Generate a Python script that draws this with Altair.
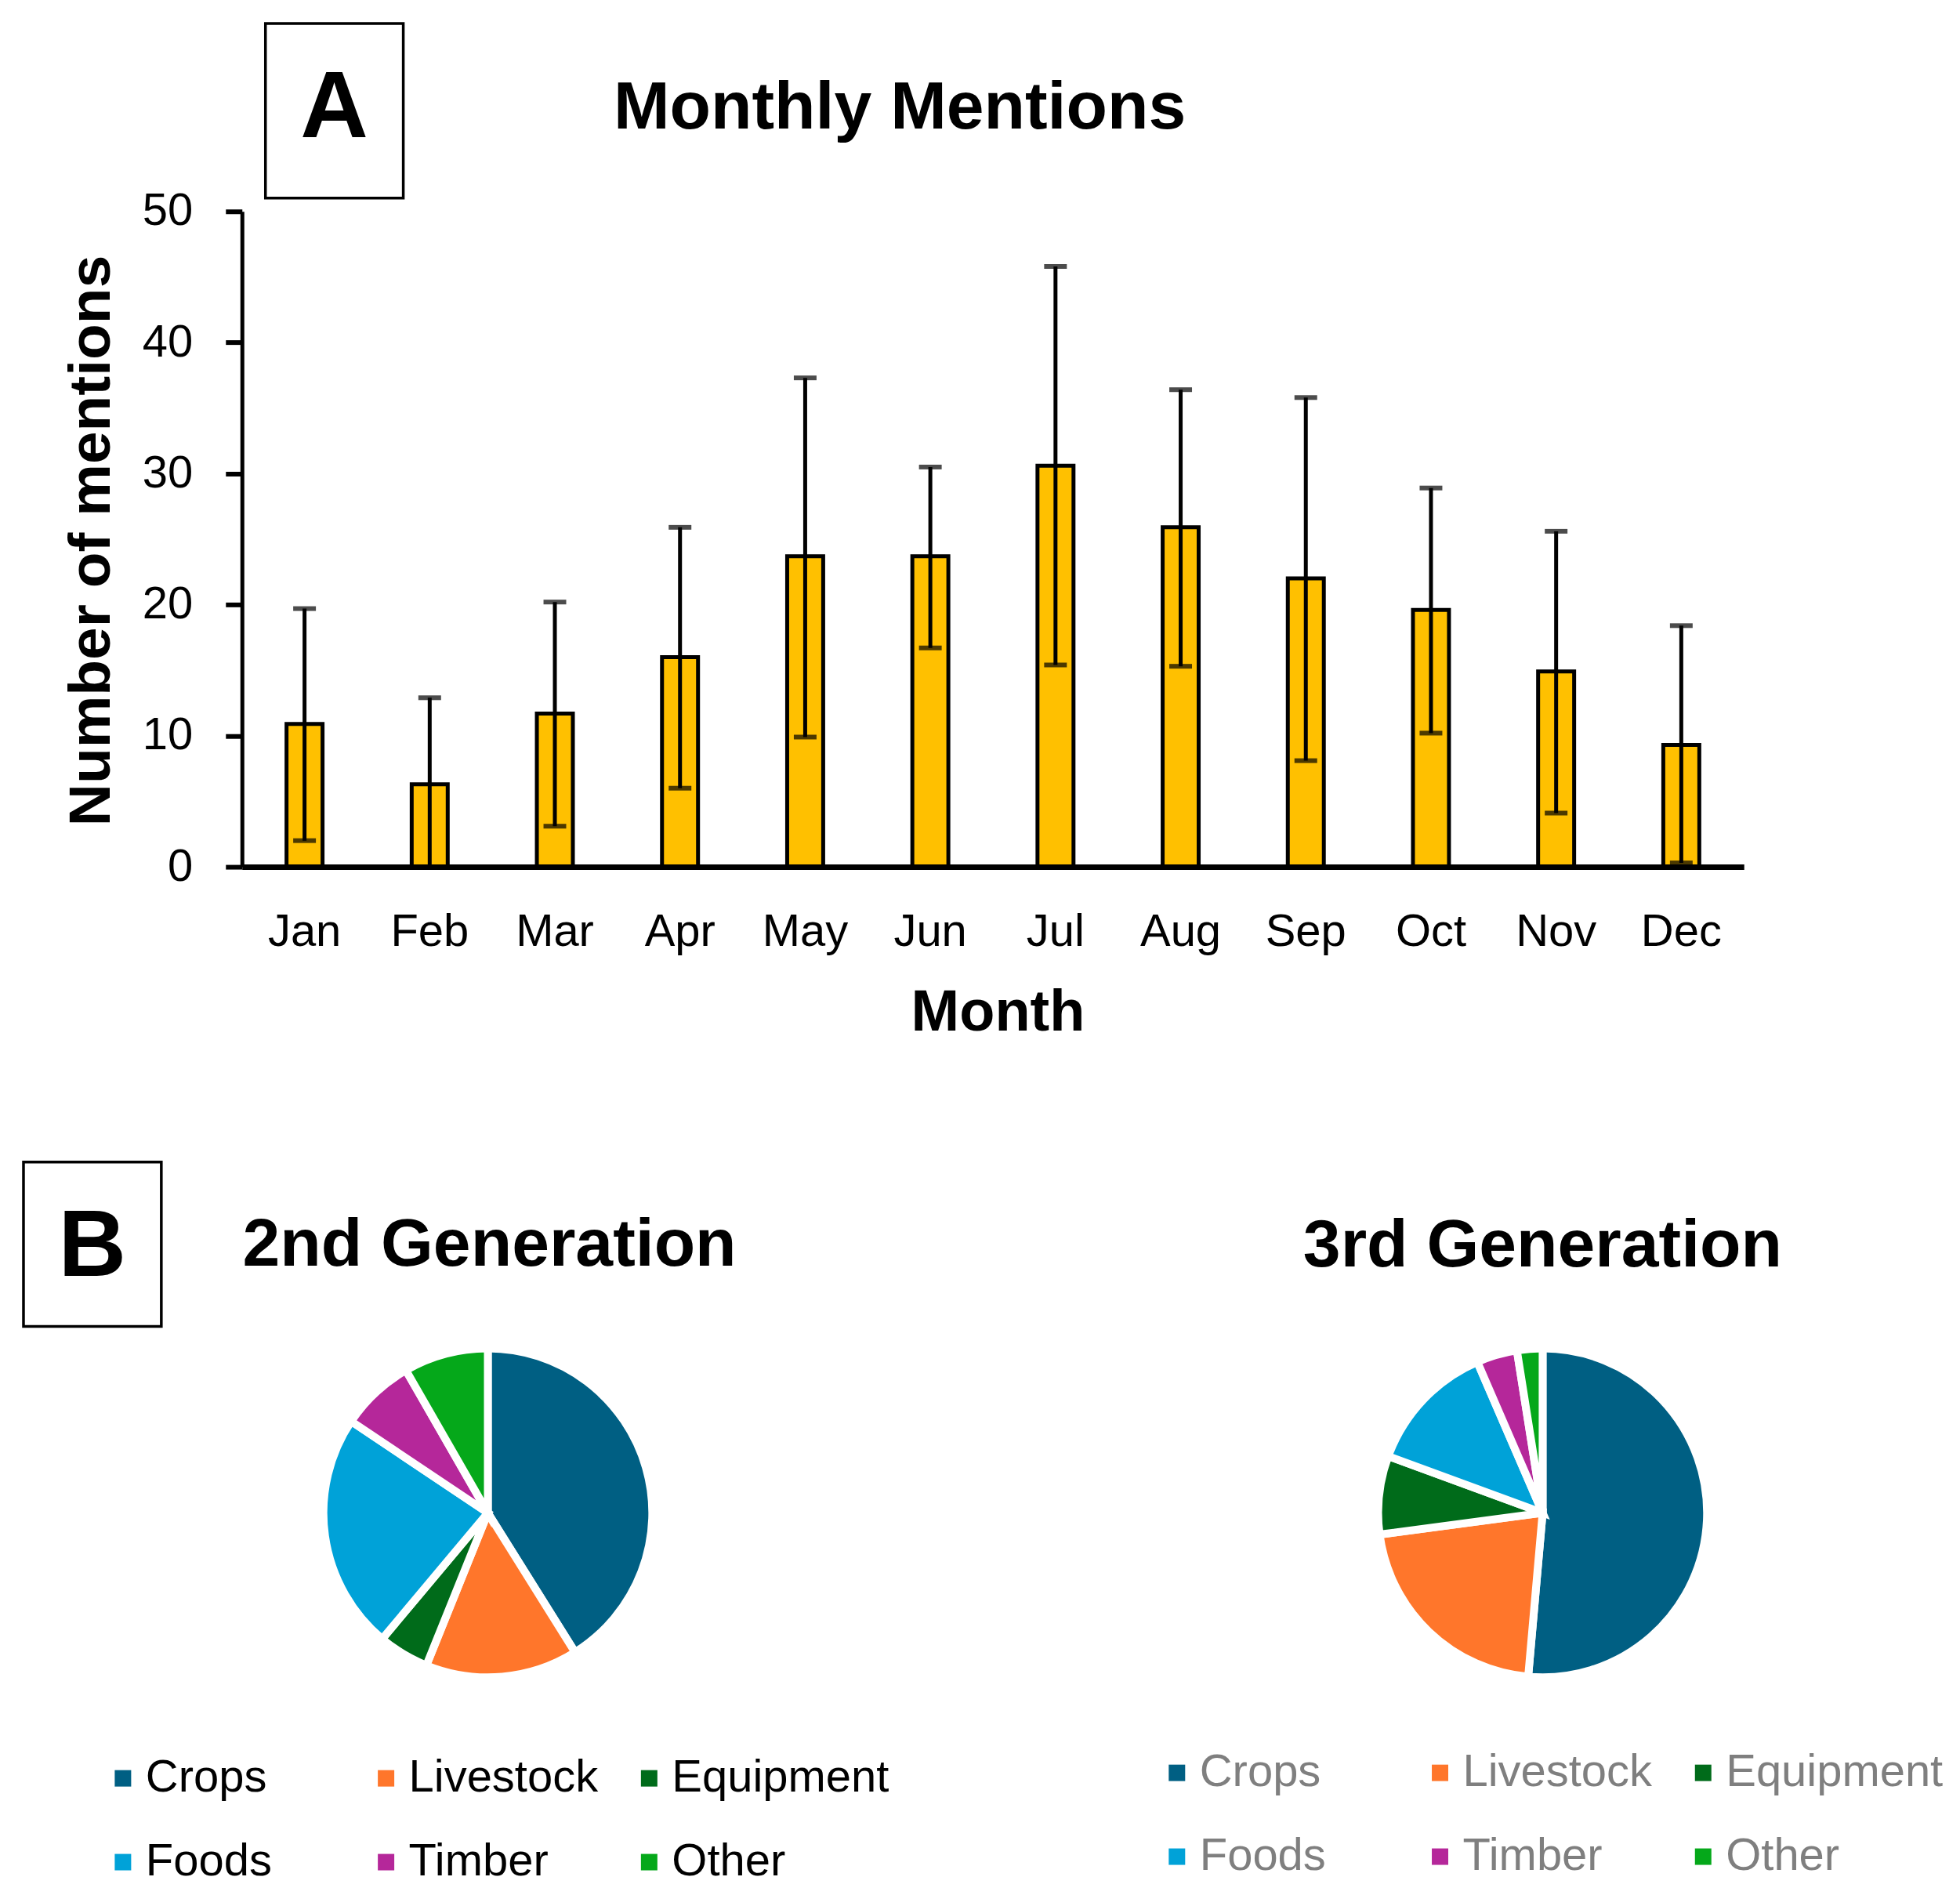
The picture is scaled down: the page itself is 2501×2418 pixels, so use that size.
import altair as alt
import pandas as pd

# ---------------- data ----------------
months = ["Jan", "Feb", "Mar", "Apr", "May", "Jun", "Jul", "Aug", "Sep", "Oct", "Nov", "Dec"]
mean_mentions = [10.9, 6.3, 11.7, 16.0, 23.7, 23.7, 30.6, 25.9, 22.0, 19.6, 14.9, 9.3]
err_low = [2.0, 0.0, 3.1, 6.0, 9.9, 16.7, 15.4, 15.3, 8.1, 10.2, 4.1, 0.3]
err_high = [19.7, 12.9, 20.2, 25.9, 37.3, 30.5, 45.8, 36.4, 35.8, 28.9, 25.6, 18.4]
y_ticks = [0, 10, 20, 30, 40, 50]

categories = ["Crops", "Livestock", "Equipment", "Foods", "Timber", "Other"]
cat_colors = ["#005F83", "#FF762B", "#006B1A", "#00A2D8", "#B5279A", "#05A81A"]
gen2_share = [41.1, 15.0, 5.0, 23.3, 7.3, 8.3]
gen3_share = [51.4, 21.5, 7.7, 12.9, 4.0, 2.5]

FONT = "Liberation Sans"

# ---------------- panel A ----------------
bar_df = pd.DataFrame({"Month": months, "mean": mean_mentions, "lo": err_low, "hi": err_high})

x_axis = alt.Axis(
    title="Month", labelAngle=0, ticks=False, tickSize=0, domainColor="black", domainWidth=7,
    labelFontSize=58, labelFont=FONT, labelColor="black", labelPadding=101, labelBaseline="alphabetic",
    titleFontSize=74, titleFont=FONT, titleFontWeight="bold", titleColor="black",
    titleX=965, titleY=209, titleBaseline="alphabetic", titleAlign="center", zindex=1,
)
y_axis = alt.Axis(
    title="Number of mentions", values=y_ticks, grid=False, domainColor="black", domainWidth=5,
    tickColor="black", tickWidth=6, tickSize=21, labelFontSize=58, labelFont=FONT, labelColor="black",
    labelPadding=42, titleFontSize=75, titleFont=FONT, titleFontWeight="bold", titleColor="black",
    titleAngle=270, titleX=-169, titleY=420, titleAlign="center", titleBaseline="alphabetic", zindex=1,
)
x_scale = alt.Scale(domain=months, paddingInner=0, paddingOuter=0)
y_scale = alt.Scale(domain=[0, 50], nice=False)

base = alt.Chart(bar_df)
xenc = alt.X("Month:N", sort=months, scale=x_scale, axis=x_axis)

bars = base.mark_bar(size=46, fill="#FFC000", stroke="black", strokeWidth=5).encode(
    x=xenc, y=alt.Y("mean:Q", scale=y_scale, axis=y_axis)
)
err_rule = base.mark_rule(color="black", strokeWidth=5).encode(
    x=xenc, y=alt.Y("lo:Q", scale=y_scale, axis=y_axis), y2="hi:Q"
)
cap_hi = base.mark_tick(color="black", size=29, thickness=6, orient="horizontal").encode(
    x=xenc, y=alt.Y("hi:Q", scale=y_scale, axis=y_axis)
)
cap_lo = base.mark_tick(color="black", size=29, thickness=6, orient="horizontal").encode(
    x=xenc, y=alt.Y("lo:Q", scale=y_scale, axis=y_axis)
)

one = pd.DataFrame({"k": [0]})
frame_a = alt.Chart(one).mark_rule(opacity=0, strokeOpacity=0).encode(
    x=alt.value(-284), x2=alt.value(2161), y=alt.value(-244), y2=alt.value(1131)
)
title_a = alt.Chart(pd.DataFrame({"t": ["Monthly Mentions"]})).mark_text(
    font=FONT, fontSize=86, fontWeight="bold", color="black", align="center", baseline="alphabetic"
).encode(x=alt.value(840), y=alt.value(-106), text="t:N")
box_a = alt.Chart(one).mark_rect(fillOpacity=0, stroke="black", strokeWidth=3.5).encode(
    x=alt.value(30), x2=alt.value(206), y=alt.value(-240), y2=alt.value(-17)
)
letter_a = alt.Chart(pd.DataFrame({"t": ["A"]})).mark_text(
    font=FONT, fontSize=120, fontWeight="bold", color="black", align="center", baseline="alphabetic"
).encode(x=alt.value(118), y=alt.value(-95), text="t:N")

panel_a = alt.layer(frame_a, bars, err_rule, cap_hi, cap_lo, box_a, letter_a, title_a).properties(
    width=1918, height=837
)


# ---------------- panel B ----------------
def pie_chart(shares, title, label_color, legend_x, legend_y, frame, center, title_xy, width, box=None):
    df = pd.DataFrame({"category": categories, "share": shares, "idx": list(range(len(categories)))})
    arcs = alt.Chart(df).mark_arc(radius=210, stroke="white", strokeWidth=10).encode(
        theta=alt.Theta("share:Q", stack=True),
        color=alt.Color(
            "category:N", sort=categories,
            scale=alt.Scale(domain=categories, range=cat_colors),
            legend=alt.Legend(
                title=None, orient="none", legendX=legend_x, legendY=legend_y, direction="horizontal",
                columns=3, gridAlign="all", columnPadding=0, rowPadding=49, padding=0,
                symbolType="square", symbolSize=441, symbolStrokeWidth=0, symbolOpacity=1,
                labelFont=FONT, labelFontSize=58, labelColor=label_color, labelOffset=0, labelLimit=600,
            ),
        ),
        order=alt.Order("idx:Q"),
        x=alt.value(center[0]),
        y=alt.value(center[1]),
    )
    fr = alt.Chart(one).mark_rule(opacity=0, strokeOpacity=0).encode(
        x=alt.value(frame[0]), x2=alt.value(frame[1]), y=alt.value(frame[2]), y2=alt.value(frame[3])
    )
    ttl = alt.Chart(pd.DataFrame({"t": [title]})).mark_text(
        font=FONT, fontSize=86, fontWeight="bold", color="black", align="center", baseline="alphabetic"
    ).encode(x=alt.value(title_xy[0]), y=alt.value(title_xy[1]), text="t:N")
    layers = [fr, arcs, ttl]
    if box is not None:
        bx = alt.Chart(one).mark_rect(fillOpacity=0, stroke="black", strokeWidth=3.5).encode(
            x=alt.value(box[0]), x2=alt.value(box[1]), y=alt.value(box[2]), y2=alt.value(box[3])
        )
        lt = alt.Chart(pd.DataFrame({"t": ["B"]})).mark_text(
            font=FONT, fontSize=120, fontWeight="bold", color="black", align="center", baseline="alphabetic"
        ).encode(x=alt.value((box[0] + box[1]) / 2), y=alt.value(-53), text="t:N")
        layers += [bx, lt]
    return alt.layer(*layers).properties(width=width, height=500)


# left pie: plot origin shares x with panel A (page x 309), y page 1681
pie2 = pie_chart(gen2_share, "2nd Generation", "black", -181, 560, (-284, 941, -281, 721),
                 (314, 250), (316, -66), 600, box=(-279, -103, -198, 12))
# right pie: plot origin page (1720, 1681)
pie3 = pie_chart(gen3_share, "3rd Generation", "#7F7F7F", -246, 553, (-470, 775, -281, 721),
                 (250, 250), (250, -65), 500)

panel_b = alt.hconcat(pie2, pie3, spacing=0).resolve_legend(color="independent")

chart = alt.vconcat(panel_a, panel_b, spacing=0).properties(
    padding={"left": 17, "top": 17, "right": 0, "bottom": 0}
).configure(font=FONT).configure_view(stroke="transparent", strokeWidth=0)

chart.save("out.html", embed_options={"renderer": "svg", "actions": False})
